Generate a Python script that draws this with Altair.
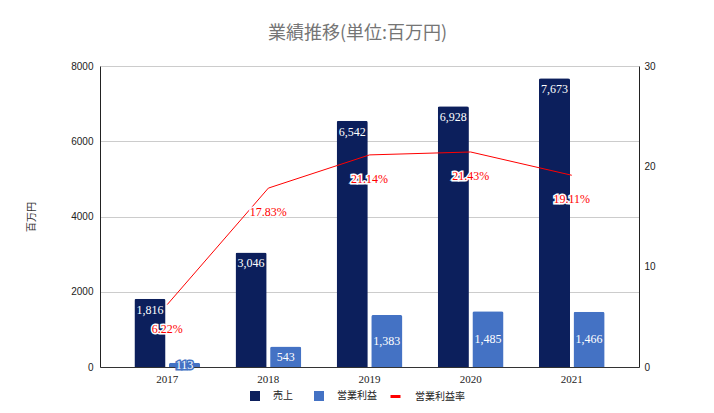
import altair as alt
import pandas as pd

years = ["2017", "2018", "2019", "2020", "2021"]
sales = [1816, 3046, 6542, 6928, 7673]
op_profit = [113, 543, 1383, 1485, 1466]
op_margin = [6.22, 17.83, 21.14, 21.43, 19.11]
series = ["売上", "営業利益"]
colors = ["#0c1f5c", "#4472c4"]
line_name = ["営業利益率"]

rows = []
for y, s, p in zip(years, sales, op_profit):
    rows.append({"year": y, "series": "売上", "value": s})
    rows.append({"year": y, "series": "営業利益", "value": p})
df_bars = pd.DataFrame(rows)
df_rate = pd.DataFrame({"year": years, "rate": op_margin, "name": line_name * len(years)})

JP = "Noto Sans CJK JP"
SERIF = "Liberation Serif"

x_enc = alt.X("year:N", sort=years, title=None,
              scale=alt.Scale(paddingInner=0.35, paddingOuter=0.34),
              axis=alt.Axis(labelAngle=0, labelFont=SERIF, labelFontSize=11, labelColor="#222",
                            domainColor="#333", ticks=False, labelPadding=6))
xo_enc = alt.XOffset("series:N", sort=series, scale=alt.Scale(domain=series, paddingInner=0.1))
y_axis = alt.Axis(title="百万円", titleFont=JP, titleFontSize=10, titleFontWeight="normal",
                  titleColor="#333", titlePadding=34, values=[0, 2000, 4000, 6000, 8000], format="d",
                  labelFont="Liberation Sans", labelFontSize=10, labelColor="#222",
                  ticks=False, domainColor="#222", gridColor="#cccccc", labelPadding=7)
y_scale = alt.Scale(domain=[0, 8000], nice=False)

bars = alt.Chart(df_bars).mark_bar(cornerRadiusTopLeft=2, cornerRadiusTopRight=2).encode(
    x=x_enc, xOffset=xo_enc,
    y=alt.Y("value:Q", scale=y_scale, axis=y_axis),
    color=alt.Color("series:N", sort=series, scale=alt.Scale(domain=series, range=colors),
                    legend=alt.Legend(title=None, orient="none", legendX=149, legendY=324,
                                      direction="horizontal", symbolType="square",
                                      symbolSize=100, labelFont=JP, labelFontSize=10,
                                      labelOffset=12, labelColor="#222", columnPadding=20)),
)

sales_text = alt.Chart(df_bars).transform_filter(alt.datum.series == "売上").mark_text(
    baseline="middle", dy=11, color="white", font=SERIF, fontSize=12
).encode(x=x_enc, xOffset=xo_enc, y=alt.Y("value:Q", scale=y_scale, axis=y_axis),
         text=alt.Text("value:Q", format=","))

prof_base = alt.Chart(df_bars).transform_filter(alt.datum.series == "営業利益").transform_calculate(
    orig="datum.value").transform_calculate(value="datum.value / 2")
prof_halo = prof_base.mark_text(baseline="middle", color="#4472c4", stroke="#4472c4", strokeWidth=3,
                                font=SERIF, fontSize=12).encode(
    x=x_enc, xOffset=xo_enc, y=alt.Y("value:Q", scale=y_scale, axis=y_axis),
    text=alt.Text("orig:Q", format=","))
prof_text = prof_base.mark_text(
    baseline="middle", color="white", font=SERIF, fontSize=12).encode(
    x=x_enc, xOffset=xo_enc, y=alt.Y("value:Q", scale=y_scale, axis=y_axis),
    text=alt.Text("orig:Q", format=","))

left = alt.layer(bars, sales_text, prof_halo, prof_text)

r_scale = alt.Scale(domain=[0, 30], nice=False)
r_axis = alt.Axis(title=None, orient="right", values=[0, 10, 20, 30], grid=False, ticks=False,
                  labelFont="Liberation Sans", labelFontSize=10, labelColor="#222",
                  domainColor="#222", labelPadding=5)

line = alt.Chart(df_rate).mark_line(strokeWidth=1).encode(
    x=x_enc, y=alt.Y("rate:Q", scale=r_scale, axis=r_axis),
    stroke=alt.Stroke("name:N", scale=alt.Scale(domain=line_name, range=["#ff0000"]),
                      legend=alt.Legend(title=None, orient="none", legendX=289, legendY=324,
                                        symbolType="stroke",
                                        symbolStrokeWidth=3, symbolSize=100, labelFont=JP,
                                        labelOffset=13, labelFontSize=10, labelColor="#222")),
)
rate_halo = alt.Chart(df_rate).mark_text(dy=24, baseline="middle", color="white", stroke="white",
                                         strokeWidth=3, font=SERIF, fontSize=12).encode(
    x=x_enc, y=alt.Y("rate:Q", scale=r_scale, axis=r_axis),
    text=alt.Text("label:N")).transform_calculate(label="format(datum.rate, '.2f') + '%'")
rate_text = alt.Chart(df_rate).mark_text(dy=24, baseline="middle", color="#ff0000",
                                         font=SERIF, fontSize=12).encode(
    x=x_enc, y=alt.Y("rate:Q", scale=r_scale, axis=r_axis),
    text=alt.Text("label:N")).transform_calculate(label="format(datum.rate, '.2f') + '%'")

right = alt.layer(line, rate_halo, rate_text)

chart = alt.layer(left, right).resolve_scale(y="independent", color="independent").properties(
    width=539, height=301,
    autosize=alt.AutoSizeParams(type="none"),
    padding={"left": 92, "top": 58, "right": 67, "bottom": 38},
    title=alt.TitleParams("業績推移(単位:百万円)", font=JP, fontSize=18, fontWeight="normal",
                          color="#757575", offset=18, dx=-12),
).configure_view(stroke=None)

chart.save("out.html", embed_options={"renderer": "svg", "actions": False})
